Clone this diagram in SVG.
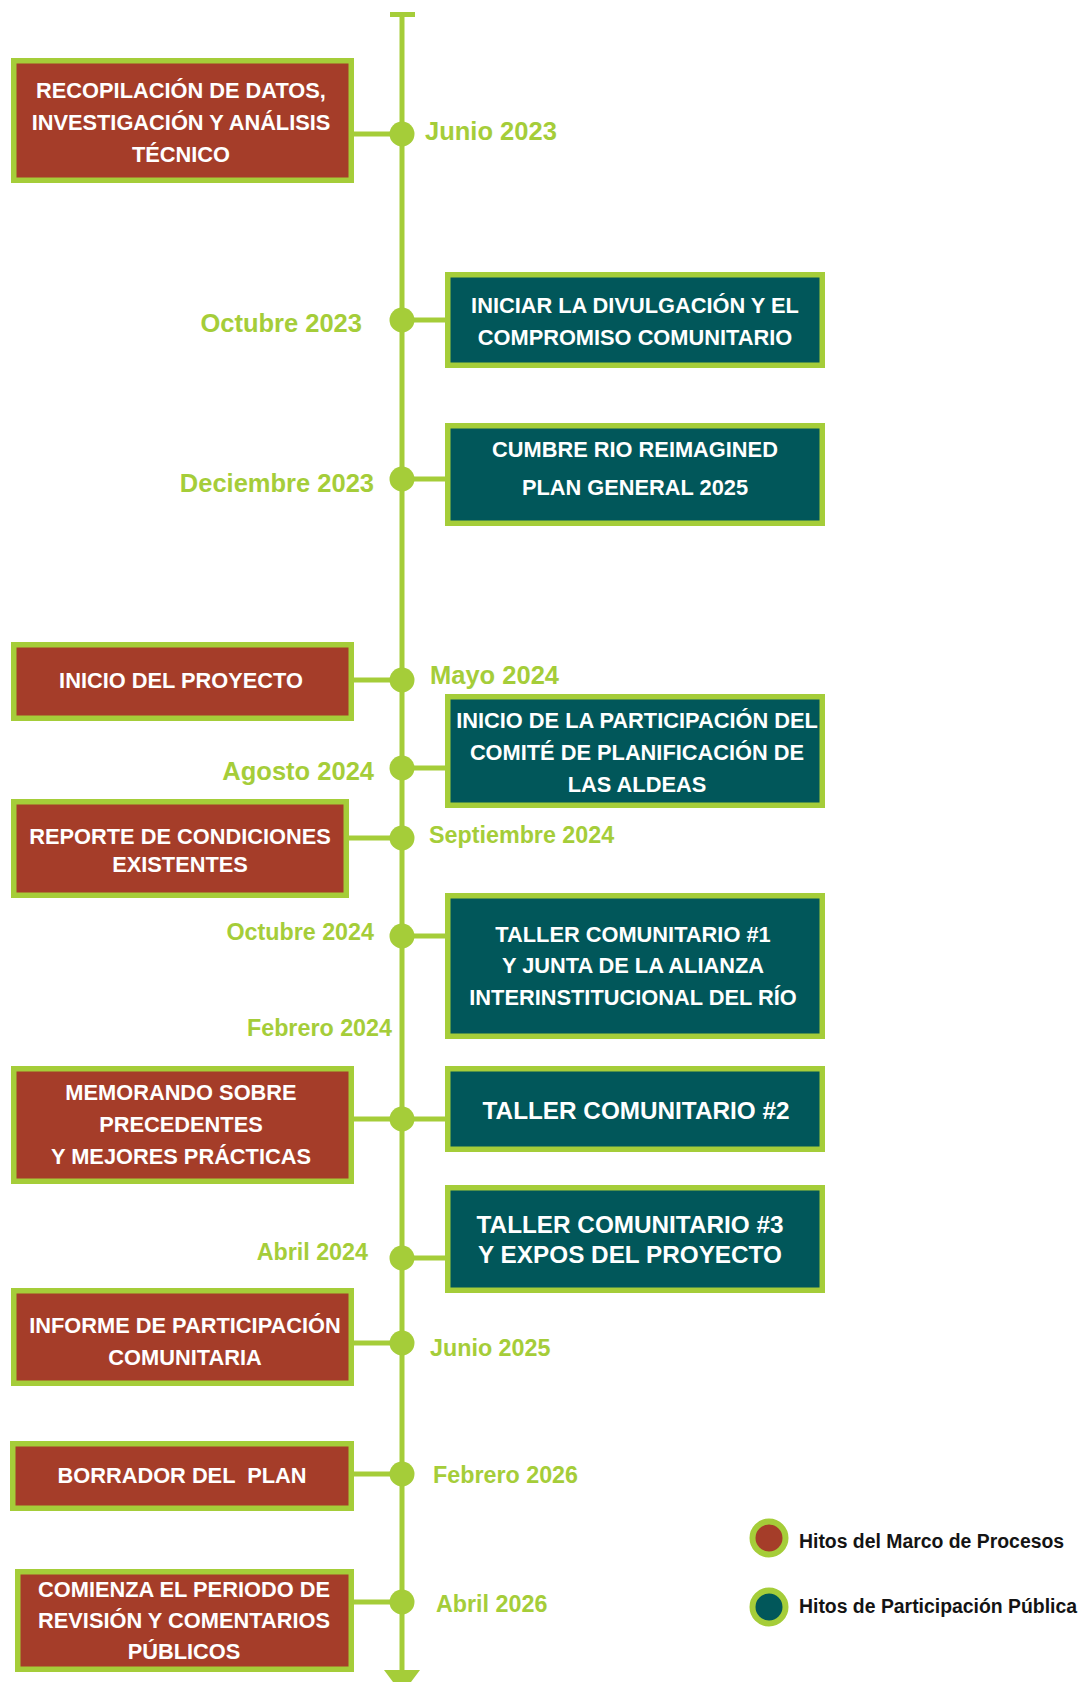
<svg xmlns="http://www.w3.org/2000/svg" width="1090" height="1682" viewBox="0 0 1090 1682">
<style>
  .red{fill:#A53D29;stroke:#A5CD39;stroke-width:5.5}
  .teal{fill:#01575A;stroke:#A5CD39;stroke-width:5.5}
  .bt{font-family:"Liberation Sans",Arial,sans-serif;font-weight:700;fill:#FFFFFF;text-anchor:middle;font-size:21.8px}
  .bt24{font-size:24.3px}
  .date{font-family:"Liberation Sans",Arial,sans-serif;font-weight:700;fill:#A5CD39;font-size:25.5px}
  .ds{font-size:23.3px}
  .end{text-anchor:end}
  .conn{stroke:#A5CD39;stroke-width:5;fill:none}
  .dot{fill:#A5CD39}
  .leg{font-family:"Liberation Sans",Arial,sans-serif;font-weight:700;fill:#141414;font-size:19.4px}
</style>

<g id="timeline">
  <line class="conn" x1="402" y1="12" x2="402" y2="1675"/>
  <rect x="390" y="12" width="25" height="5" class="dot"/>
  <polygon class="dot" points="384,1670 420,1670 402,1694"/>
</g>

<g id="connectors">
  <line class="conn" x1="352" y1="134" x2="402" y2="134"/>
  <line class="conn" x1="402" y1="320" x2="447" y2="320"/>
  <line class="conn" x1="402" y1="479" x2="447" y2="479"/>
  <line class="conn" x1="352" y1="680" x2="402" y2="680"/>
  <line class="conn" x1="402" y1="768" x2="447" y2="768"/>
  <line class="conn" x1="347" y1="838" x2="402" y2="838"/>
  <line class="conn" x1="402" y1="936" x2="447" y2="936"/>
  <line class="conn" x1="352" y1="1119" x2="447" y2="1119"/>
  <line class="conn" x1="402" y1="1258" x2="447" y2="1258"/>
  <line class="conn" x1="352" y1="1343" x2="402" y2="1343"/>
  <line class="conn" x1="352" y1="1474" x2="402" y2="1474"/>
  <line class="conn" x1="352" y1="1602" x2="402" y2="1602"/>
</g>

<g id="milestones">
  <circle class="dot" cx="402" cy="134" r="12.5"/>
  <circle class="dot" cx="402" cy="320" r="12.5"/>
  <circle class="dot" cx="402" cy="479" r="12.5"/>
  <circle class="dot" cx="402" cy="680" r="12.5"/>
  <circle class="dot" cx="402" cy="768" r="12.5"/>
  <circle class="dot" cx="402" cy="838" r="12.5"/>
  <circle class="dot" cx="402" cy="936" r="12.5"/>
  <circle class="dot" cx="402" cy="1119" r="12.5"/>
  <circle class="dot" cx="402" cy="1258" r="12.5"/>
  <circle class="dot" cx="402" cy="1343" r="12.5"/>
  <circle class="dot" cx="402" cy="1474" r="12.5"/>
  <circle class="dot" cx="402" cy="1602" r="12.5"/>
</g>

<g id="dates">
  <text class="date" x="425" y="140">Junio 2023</text>
  <text class="date end" x="362" y="332">Octubre 2023</text>
  <text class="date end" x="374" y="492">Deciembre 2023</text>
  <text class="date" x="430" y="684">Mayo 2024</text>
  <text class="date end" x="374" y="780">Agosto 2024</text>
  <text class="date ds" x="429" y="843">Septiembre 2024</text>
  <text class="date ds end" x="374" y="940">Octubre 2024</text>
  <text class="date ds end" x="392" y="1036">Febrero 2024</text>
  <text class="date ds end" x="368" y="1260">Abril 2024</text>
  <text class="date ds" x="430" y="1356">Junio 2025</text>
  <text class="date ds" x="433" y="1483">Febrero 2026</text>
  <text class="date ds" x="436" y="1612">Abril 2026</text>
</g>

<g id="box-recopilacion">
  <rect class="red" x="13.75" y="60.75" width="337.5" height="119.5"/>
  <text class="bt" x="181" y="98">RECOPILACIÓN DE DATOS,</text>
  <text class="bt" x="181" y="130">INVESTIGACIÓN Y ANÁLISIS</text>
  <text class="bt" x="181" y="162">TÉCNICO</text>
</g>

<g id="box-divulgacion">
  <rect class="teal" x="447.75" y="274.75" width="374.5" height="90.5"/>
  <text class="bt" x="635" y="313">INICIAR LA DIVULGACIÓN Y EL</text>
  <text class="bt" x="635" y="345">COMPROMISO COMUNITARIO</text>
</g>

<g id="box-cumbre">
  <rect class="teal" x="447.75" y="425.75" width="374.5" height="97.5"/>
  <text class="bt" x="635" y="457">CUMBRE RIO REIMAGINED</text>
  <text class="bt" x="635" y="495">PLAN GENERAL 2025</text>
</g>

<g id="box-inicio">
  <rect class="red" x="13.75" y="644.75" width="337.5" height="73.5"/>
  <text class="bt" x="181" y="688">INICIO DEL PROYECTO</text>
</g>

<g id="box-comite">
  <rect class="teal" x="447.75" y="696.75" width="374.5" height="108.5"/>
  <text class="bt" x="637" y="728">INICIO DE LA PARTICIPACIÓN DEL</text>
  <text class="bt" x="637" y="760">COMITÉ DE PLANIFICACIÓN DE</text>
  <text class="bt" x="637" y="792">LAS ALDEAS</text>
</g>

<g id="box-reporte">
  <rect class="red" x="13.75" y="801.75" width="332.5" height="93.5"/>
  <text class="bt" x="180" y="844">REPORTE DE CONDICIONES</text>
  <text class="bt" x="180" y="872">EXISTENTES</text>
</g>

<g id="box-taller1">
  <rect class="teal" x="447.75" y="895.75" width="374.5" height="140.5"/>
  <text class="bt" x="633" y="942">TALLER COMUNITARIO #1</text>
  <text class="bt" x="633" y="973">Y JUNTA DE LA ALIANZA</text>
  <text class="bt" x="633" y="1005">INTERINSTITUCIONAL DEL RÍO</text>
</g>

<g id="box-memorando">
  <rect class="red" x="13.75" y="1068.75" width="337.5" height="112.5"/>
  <text class="bt" x="181" y="1100">MEMORANDO SOBRE</text>
  <text class="bt" x="181" y="1132">PRECEDENTES</text>
  <text class="bt" x="181" y="1164">Y MEJORES PRÁCTICAS</text>
</g>

<g id="box-taller2">
  <rect class="teal" x="447.75" y="1068.75" width="374.5" height="80.5"/>
  <text class="bt bt24" x="636" y="1119">TALLER COMUNITARIO #2</text>
</g>

<g id="box-taller3">
  <rect class="teal" x="447.75" y="1187.75" width="374.5" height="102.5"/>
  <text class="bt bt24" x="630" y="1233">TALLER COMUNITARIO #3</text>
  <text class="bt bt24" x="630" y="1263">Y EXPOS DEL PROYECTO</text>
</g>

<g id="box-informe">
  <rect class="red" x="13.75" y="1290.75" width="337.5" height="92.5"/>
  <text class="bt" x="185" y="1333">INFORME DE PARTICIPACIÓN</text>
  <text class="bt" x="185" y="1365">COMUNITARIA</text>
</g>

<g id="box-borrador">
  <rect class="red" x="12.75" y="1443.75" width="338.5" height="64.5"/>
  <text class="bt" x="182" y="1483" style="white-space:pre">BORRADOR DEL  PLAN</text>
</g>

<g id="box-comienza">
  <rect class="red" x="17.75" y="1571.75" width="333.5" height="97.5"/>
  <text class="bt" x="184" y="1597">COMIENZA EL PERIODO DE</text>
  <text class="bt" x="184" y="1628">REVISIÓN Y COMENTARIOS</text>
  <text class="bt" x="184" y="1659">PÚBLICOS</text>
</g>

<g id="legend">
  <circle cx="769" cy="1538" r="16.5" fill="#A53D29" stroke="#A5CD39" stroke-width="6"/>
  <text class="leg" x="799" y="1548">Hitos del Marco de Procesos</text>
  <circle cx="769" cy="1607" r="16.5" fill="#01575A" stroke="#A5CD39" stroke-width="6"/>
  <text class="leg" x="799" y="1613">Hitos de Participación Pública</text>
</g>
</svg>
